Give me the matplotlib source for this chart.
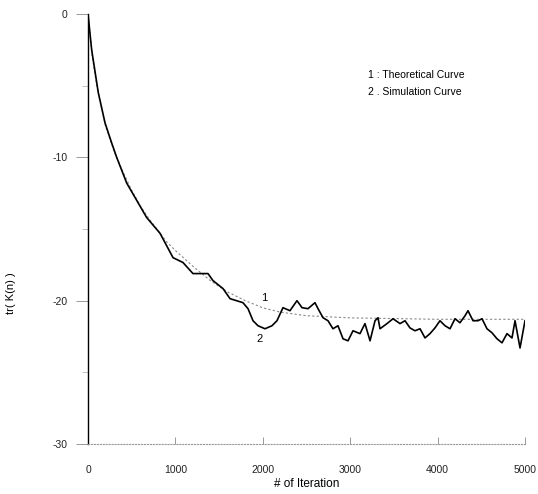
import matplotlib
matplotlib.use('Agg')
from matplotlib import pyplot as plt

plt.rcParams['font.family'] = ['Liberation Sans', 'DejaVu Sans']
plt.rcParams['axes.unicode_minus'] = False

# theoretical curve
theory_n = [0, 50, 100, 200, 300, 400, 500, 600, 700, 800, 900, 1000, 1200,
            1400, 1600, 1800, 2000, 2200, 2500, 3000, 3500, 4000, 4500, 5000]
theory_v = [0, -3.0, -5.0, -7.8, -9.6, -11.0, -12.3, -13.4, -14.3, -15.1,
            -15.9, -16.5, -17.6, -18.6, -19.4, -20.0, -20.5, -20.8, -21.05,
            -21.2, -21.25, -21.3, -21.3, -21.3]

# simulation curve
sim_n = [0, 42, 118, 195, 271, 328, 443, 671, 824, 973, 1087, 1201, 1373,
         1430, 1545, 1625, 1773, 1831, 1888, 1945, 2025, 2105, 2162, 2231,
         2311, 2391, 2449, 2517, 2597, 2632, 2689, 2746, 2803, 2860, 2918,
         2975, 3032, 3112, 3169, 3227, 3284, 3318, 3341, 3421, 3490, 3570,
         3627, 3684, 3741, 3799, 3856, 3913, 3970, 4027, 4085, 4142, 4199,
         4256, 4314, 4348, 4405, 4462, 4508, 4565, 4622, 4680, 4737, 4794,
         4851, 4886, 4943, 5000]
sim_v = [0, -2.5, -5.5, -7.6, -9.0, -10.0, -11.8, -14.2, -15.3, -17.0,
         -17.34, -18.11, -18.11, -18.6, -19.16, -19.86, -20.14, -20.56,
         -21.4, -21.75, -21.96, -21.75, -21.4, -20.49, -20.7, -20.0, -20.49,
         -20.56, -20.14, -20.56, -21.19, -21.4, -21.96, -21.75, -22.66, -22.8,
         -22.1, -22.3, -21.6, -22.8, -21.4, -21.19, -21.96, -21.6, -21.26,
         -21.6, -21.4, -21.9, -22.1, -21.96, -22.6, -22.3, -21.9, -21.4,
         -21.75, -21.96, -21.26, -21.54, -21.05, -20.7, -21.4, -21.4, -21.26,
         -21.96, -22.24, -22.66, -22.94, -22.3, -22.6, -21.4, -23.3, -21.4]

x_ticks = [0, 1000, 2000, 3000, 4000, 5000]
x_labels = ['0', '1000', '2000', '3000', '4000', '5000']
y_ticks = [0, -10, -20, -30]

fig = plt.figure(figsize=(5.38, 4.94), dpi=100)
ax = fig.add_axes([88 / 538, 1 - 444 / 494, 437 / 538, 430 / 494])

ax.plot(theory_n, theory_v, color='#888888', linestyle=(0, (2, 2)),
        linewidth=0.8)
ax.plot(sim_n, sim_v, color='black', linewidth=1.2)

ax.text(2014, -19.8, '1', fontsize=8, ha='center', va='center')
ax.text(1968, -22.7, '2', fontsize=8, ha='center', va='center')

fig.text(368 / 538, 1 - 75 / 494, '1 : Theoretical Curve', fontsize=7.5,
         va='center')
fig.text(368 / 538, 1 - 92 / 494, '2 . Simulation Curve', fontsize=7.5,
         va='center')

ax.set_xlim(0, 5000)
ax.set_ylim(-30, 0)
ax.set_xticks(x_ticks)
ax.set_xticklabels(x_labels)
ax.set_yticks(y_ticks)
ax.set_yticks([-5, -15, -25], minor=True)

for s in ['top', 'right']:
    ax.spines[s].set_visible(False)
ax.spines['left'].set_linewidth(1.0)
ax.spines['bottom'].set_linestyle(':')
ax.spines['bottom'].set_color('#999999')
ax.spines['bottom'].set_linewidth(0.8)

ax.tick_params(axis='y', direction='out', length=9, width=0.6,
               color='#888888', labelsize=7.5, pad=6, labelcolor='#222222')
ax.tick_params(axis='y', which='minor', length=4, width=0.5, color='#aaaaaa')
ax.tick_params(axis='x', direction='in', length=5, width=0.6,
               color='#888888', labelsize=7.5, pad=15, labelcolor='#222222')

ax.set_xlabel('# of Iteration', fontsize=8.5, labelpad=2)
ax.set_ylabel('tr( K(n) )', fontsize=8)
ax.yaxis.set_label_coords(-0.165, 0.35)

plt.savefig('out.png', dpi=100)
